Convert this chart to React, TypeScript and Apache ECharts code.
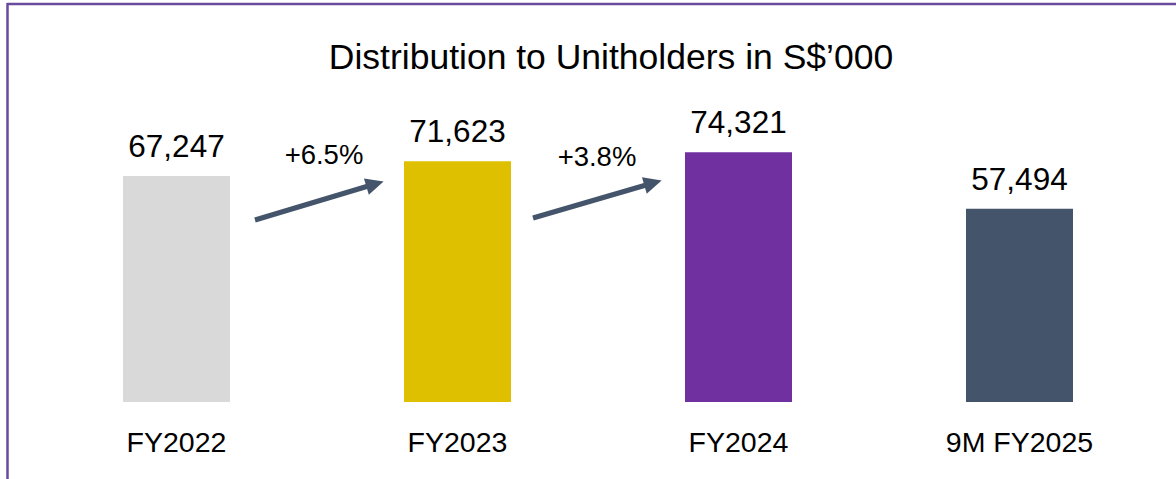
import React, { useEffect, useRef } from "react";
import * as echarts from "echarts";

const categories = ["FY2022", "FY2023", "FY2024", "9M FY2025"];
const values = [67247, 71623, 74321, 57494];
const barColors = ["#d9d9d9", "#dfc000", "#7030a0", "#44546a"];
const growthLabels = ["+6.5%", "+3.8%"];
const titleText = "Distribution to Unitholders in S$\u2019000";

const FONT = "'Liberation Sans', Arial, Helvetica, sans-serif";

export default function App() {
  const ref = useRef<HTMLDivElement>(null);
  useEffect(() => {
    document.body.style.margin = "0";
    const chart = echarts.init(ref.current!, null, { renderer: "svg" });
    const option: any = {
      animation: false,
      backgroundColor: "#ffffff",
      grid: { left: 36, right: 16, top: 66, bottom: 77, containLabel: false },
      xAxis: {
        type: "category",
        data: categories,
        axisLine: { show: false },
        axisTick: { show: false },
        axisLabel: {
          color: "#000000",
          fontSize: 28.5,
          fontFamily: FONT,
          margin: 25,
        },
      },
      yAxis: {
        type: "value",
        min: 0,
        max: 100000,
        show: false,
        splitLine: { show: false },
      },
      series: [
        {
          type: "bar",
          barWidth: 107,
          data: values.map((v, i) => ({
            value: v,
            itemStyle: { color: barColors[i] },
          })),
          label: {
            show: true,
            position: "top",
            distance: 14,
            color: "#000000",
            fontSize: 31.5,
            fontFamily: FONT,
            formatter: (p: any) => p.value.toLocaleString("en-US"),
          },
          markLine: {
            silent: true,
            symbol: ["none", "path://M5,0 L10,10 L0,10 Z"],
            symbolSize: [17, 18],
            label: { show: false },
            lineStyle: { color: "#44546a", width: 5, type: "solid" },
            data: [
              [
                { x: 255, y: 220 },
                { x: 375, y: 184 },
              ],
              [
                { x: 533, y: 218 },
                { x: 653, y: 183 },
              ],
            ],
          },
        },
      ],
      graphic: [
        {
          type: "text",
          x: 611,
          y: 57,
          style: {
            text: titleText,
            fontSize: 35.5,
            fontFamily: FONT,
            fill: "#000000",
            align: "center",
            verticalAlign: "middle",
          },
        },
        {
          type: "text",
          x: 324,
          y: 154,
          style: {
            text: growthLabels[0],
            fontSize: 27.5,
            fontFamily: FONT,
            fill: "#000000",
            align: "center",
            verticalAlign: "middle",
          },
        },
        {
          type: "text",
          x: 597,
          y: 156,
          style: {
            text: growthLabels[1],
            fontSize: 27.5,
            fontFamily: FONT,
            fill: "#000000",
            align: "center",
            verticalAlign: "middle",
          },
        },
        {
          type: "line",
          shape: { x1: 7, y1: 4, x2: 1176, y2: 4 },
          style: { stroke: "#6a4a9c", lineWidth: 2.5 },
        },
        {
          type: "line",
          shape: { x1: 7.5, y1: 3, x2: 7.5, y2: 479 },
          style: { stroke: "#6a4a9c", lineWidth: 2.5 },
        },
      ],
    };
    chart.setOption(option);
    return () => chart.dispose();
  }, []);
  return (
    <div
      ref={ref}
      style={{ position: "absolute", left: 0, top: 0, width: 1176, height: 479 }}
    />
  );
}
